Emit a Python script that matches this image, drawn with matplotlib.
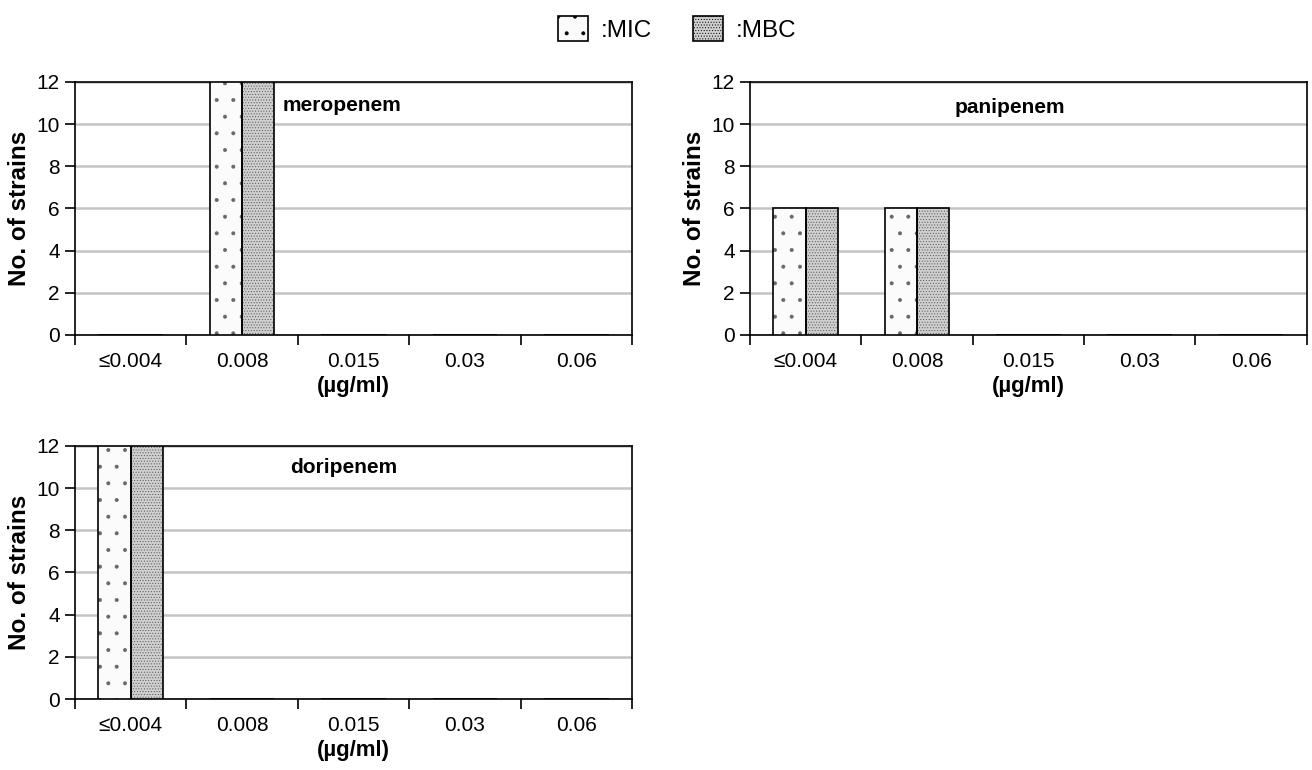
import matplotlib.pyplot as plt
from matplotlib.patches import Patch

plt.rcParams['font.family'] = ['Liberation Sans', 'DejaVu Sans']
plt.rcParams['hatch.linewidth'] = 0.4

categories = ['≤0.004', '0.008', '0.015', '0.03', '0.06']

meropenem_mic = [0, 12, 0, 0, 0]
meropenem_mbc = [0, 12, 0, 0, 0]
panipenem_mic = [6, 6, 0, 0, 0]
panipenem_mbc = [6, 6, 0, 0, 0]
doripenem_mic = [12, 0, 0, 0, 0]
doripenem_mbc = [12, 0, 0, 0, 0]

y_ticks = [0, 2, 4, 6, 8, 10, 12]

MIC_STYLE = dict(facecolor='#fbfbfb', hatch='.', edgecolor='#666666')
MBC_STYLE = dict(facecolor='#cfcfcf', hatch='......', edgecolor='#555555')

fig = plt.figure(figsize=(13.12, 7.7), dpi=100)

ax_mero = fig.add_axes([0.0572, 0.565, 0.4245, 0.3286])
ax_pani = fig.add_axes([0.5716, 0.565, 0.4245, 0.3286])
ax_dori = fig.add_axes([0.0572, 0.0922, 0.4245, 0.3286])


def draw_panel(ax, mic, mbc, name, name_xy, ha):
    x = list(range(len(categories)))
    w = 0.29
    x_mic = [i - w / 2 for i in x]
    x_mbc = [i + w / 2 for i in x]
    ax.bar(x_mic, mic, w, linewidth=0, zorder=3, **MIC_STYLE)
    ax.bar(x_mbc, mbc, w, linewidth=0, zorder=3, **MBC_STYLE)
    ax.bar(x_mic, mic, w, fill=False, edgecolor='black', linewidth=1.2, zorder=4)
    ax.bar(x_mbc, mbc, w, fill=False, edgecolor='black', linewidth=1.2, zorder=4)

    ax.set_xlim(-0.5, len(categories) - 0.5)
    ax.set_ylim(0, 12)
    ax.set_yticks(y_ticks)
    ax.set_xticks([i - 0.5 for i in range(len(categories) + 1)])
    ax.set_xticklabels([])
    ax.set_xticks(x, minor=True)
    ax.set_xticklabels(categories, minor=True)
    ax.tick_params(axis='x', which='minor', length=0, pad=12, labelsize=15)
    ax.tick_params(axis='x', which='major', length=7, width=1.2, direction='out')
    ax.tick_params(axis='y', length=7, width=1.2, direction='out', labelsize=15, pad=4)
    ax.grid(axis='y', color='#c4c4c4', linewidth=1.8, zorder=0)
    ax.set_axisbelow(True)
    for s in ax.spines.values():
        s.set_linewidth(1.2)
        s.set_color('black')
    ax.set_ylabel('No. of strains', fontsize=17.5, fontweight='bold', labelpad=4)
    ax.set_xlabel('(µg/ml)', fontsize=16, fontweight='bold', labelpad=4)
    ax.text(name_xy[0], name_xy[1], name, transform=ax.transAxes, fontsize=15,
            fontweight='bold', ha=ha, va='center', zorder=5)


draw_panel(ax_mero, meropenem_mic, meropenem_mbc, 'meropenem', (0.372, 0.905), 'left')
draw_panel(ax_pani, panipenem_mic, panipenem_mbc, 'panipenem', (0.467, 0.90), 'center')
draw_panel(ax_dori, doripenem_mic, doripenem_mbc, 'doripenem', (0.483, 0.915), 'center')

handles = [Patch(linewidth=1.2, **{**MIC_STYLE, 'edgecolor': 'black'}),
           Patch(linewidth=1.2, **{**MBC_STYLE, 'edgecolor': 'black'})]
fig.legend(handles, [':MIC', ':MBC'], loc='upper center', bbox_to_anchor=(0.516, 1.008),
           ncol=2, frameon=False, fontsize=17.5, handlelength=1.25, handleheight=1.25,
           handletextpad=0.5, columnspacing=1.7)

fig.savefig('out.png', dpi=100)
